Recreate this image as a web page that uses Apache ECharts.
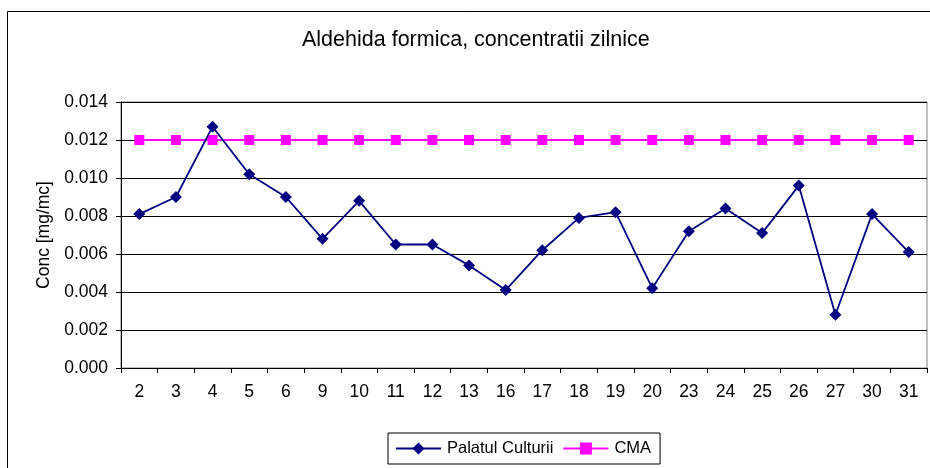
<!DOCTYPE html>
<html>
<head>
<meta charset="utf-8">
<script src="https://cdn.jsdelivr.net/npm/echarts@6/dist/echarts.min.js"></script>
<style>
html,body{margin:0;padding:0;background:#fff;}
#chart{width:930px;height:468px;}
</style>
</head>
<body>
<div id="chart"></div>
<script>
var categories = ['2','3','4','5','6','9','10','11','12','13','16','17','18','19','20','23','24','25','26','27','30','31'];
var palatulCulturii = [0.0081,0.0090,0.0127,0.0102,0.0090,0.0068,0.0088,0.0065,0.0065,0.0054,0.0041,0.0062,0.0079,0.0082,0.0042,0.0072,0.0084,0.0071,0.0096,0.0028,0.0081,0.0061];
var cma = [0.012,0.012,0.012,0.012,0.012,0.012,0.012,0.012,0.012,0.012,0.012,0.012,0.012,0.012,0.012,0.012,0.012,0.012,0.012,0.012,0.012,0.012];
var titleText = 'Aldehida formica, concentratii zilnice';
var yAxisName = 'Conc [mg/mc]';
var seriesNames = ['Palatul Culturii','CMA'];

var FONT = '"Liberation Sans", Arial, sans-serif';
var chart = echarts.init(document.getElementById('chart'), null, {renderer:'canvas'});
chart.setOption({
  animation: false,
  backgroundColor: '#fff',
  title: {
    text: titleText,
    left: 302, top: 29, padding: 0,
    textStyle: {fontFamily: FONT, fontSize: 21.5, fontWeight: 'normal', color: '#000'}
  },
  graphic: [{
    type: 'rect', silent: true, z: -1,
    shape: {x: 7.5, y: 11.5, width: 1000, height: 1000},
    style: {fill: 'none', stroke: '#000', lineWidth: 1}
  }],
  legend: {
    data: seriesNames,
    left: 388, top: 433,
    padding: [7, 9, 7, 7],
    itemWidth: 45, itemHeight: 15, itemGap: 9,
    borderColor: '#000', borderWidth: 1,
    textStyle: {fontFamily: FONT, fontSize: 16.5, color: '#000', padding: [0,0,0,1]}
  },
  grid: {
    left: 121, right: 3, top: 102, bottom: 100,
    show: true, borderColor: '#808080', borderWidth: 1,
    containLabel: false
  },
  xAxis: {
    type: 'category',
    data: categories,
    boundaryGap: true,
    axisLine: {lineStyle: {color: '#000', width: 1}},
    axisTick: {show: true, length: 5, lineStyle: {color: '#000'}},
    axisLabel: {fontFamily: FONT, fontSize: 17.5, color: '#000', margin: 15, interval: 0},
    splitLine: {show: false}
  },
  yAxis: {
    type: 'value',
    min: 0, max: 0.014, interval: 0.002,
    name: yAxisName,
    nameLocation: 'middle',
    nameGap: 68,
    nameRotate: 90,
    nameTextStyle: {fontFamily: FONT, fontSize: 17.5, color: '#000'},
    axisLine: {show: true, lineStyle: {color: '#000', width: 1}},
    axisTick: {show: true, length: 5, lineStyle: {color: '#000'}},
    axisLabel: {fontFamily: FONT, fontSize: 17.5, color: '#000', margin: 13,
      formatter: function(v){ return v.toFixed(3); }},
    splitLine: {show: true, lineStyle: {color: '#000', width: 1}}
  },
  series: [
    {
      name: seriesNames[0], type: 'line', data: palatulCulturii,
      symbol: 'diamond', symbolSize: 12,
      lineStyle: {color: '#000080', width: 1.8},
      itemStyle: {color: '#000080'},
      z: 3
    },
    {
      name: seriesNames[1], type: 'line', data: cma,
      symbol: 'rect', symbolSize: 10,
      lineStyle: {color: '#FF00FF', width: 1.8},
      itemStyle: {color: '#FF00FF'},
      z: 2
    }
  ]
});
</script>
</body>
</html>
